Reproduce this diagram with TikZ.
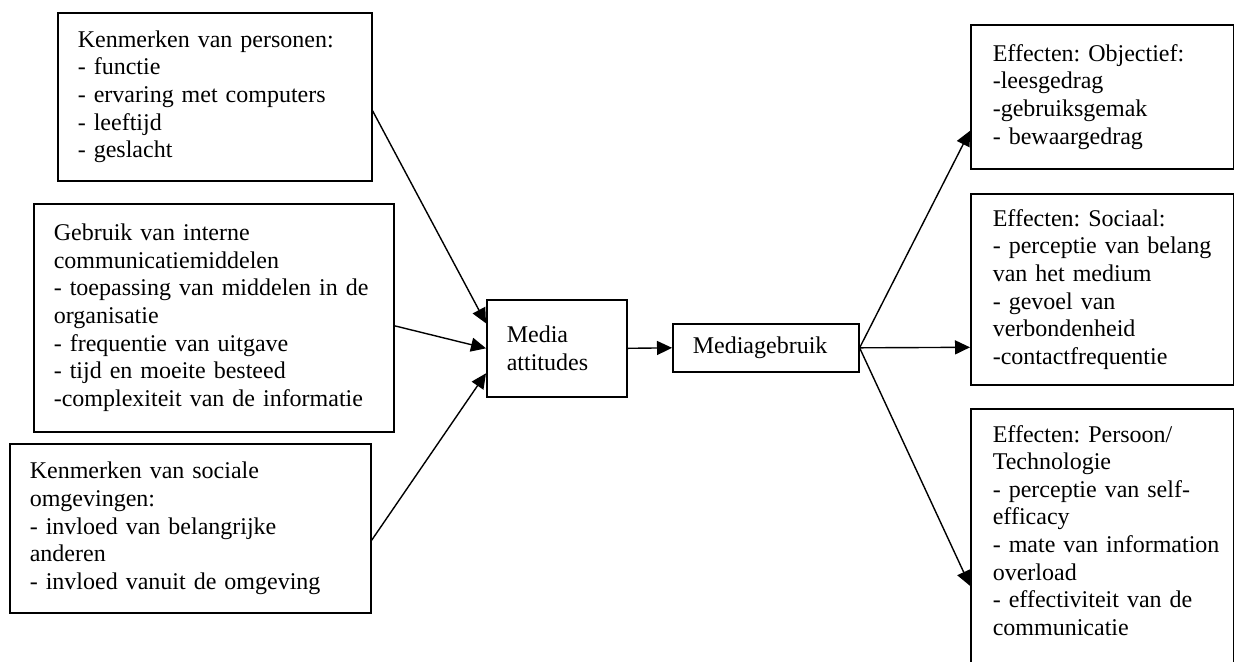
\documentclass[tikz,border=0pt]{standalone}
\usepackage{fontspec}
\setmainfont{Liberation Serif}
\usetikzlibrary{arrows.meta}
\begin{document}
\begin{tikzpicture}[x=0.5pt,y=-0.5pt,font=\fontsize{12}{13.8}\selectfont\frenchspacing,
	blok/.style={draw,line width=0.8pt,anchor=north west,align=left,inner xsep=10pt,inner ysep=2pt},
	effect/.style={blok,inner xsep=11pt,text width=109.5pt},
	pijl/.style={-{Triangle[length=7.5pt,width=7pt]},line width=0.7pt}]
	\useasboundingbox (0,0) rectangle (1234,661);
	\node[blok,text width=137pt,minimum height=84pt] (pers) at (57,12) {Kenmerken van personen:\\- functie\\- ervaring met computers\\- leeftijd\\- geslacht};
	\node[blok,text width=160pt,minimum height=114pt] (gebr) at (33,203) {Gebruik van interne\\communicatiemiddelen\\- toepassing van middelen in de\\organisatie\\- frequentie van uitgave\\- tijd en moeite besteed\\-complexiteit van de informatie};
	\node[blok,text width=160.5pt,minimum height=84.5pt] (soc) at (9,443) {Kenmerken van sociale\\omgevingen:\\- invloed van belangrijke\\anderen\\- invloed vanuit de omgeving};
	\node[blok,text width=50pt,minimum height=48.5pt] (att) at (486,299) {Media\\attitudes};
	\node[blok,text width=73pt,minimum height=24pt] (gebruik) at (672,323) {Mediagebruik};
	\node[effect,minimum height=72pt] (obj) at (970,24) {Effecten: Objectief:\\-leesgedrag\\-gebruiksgemak\\- bewaargedrag};
	\node[effect,minimum height=95.5pt] (sociaal) at (970,193) {Effecten: Sociaal:\\\mbox{- perceptie van belang}\\van het medium\\- gevoel van\\verbondenheid\\-contactfrequentie};
	\node[effect,minimum height=131pt] (persoon) at (970,408) {Effecten: Persoon/\\Technologie\\- perceptie van self-\\efficacy\\\mbox{- mate van information}\\overload\\- effectiviteit van de\\communicatie\rule[-9.6pt]{0pt}{9.6pt}};
	\draw[pijl] ([yshift=-7pt]pers.east) -- ([yshift=12.5pt]att.west);
	\draw[pijl] ([yshift=-4pt]gebr.east) -- (att.west);
	\draw[pijl] ([yshift=-6pt]soc.east) -- ([yshift=-12.5pt]att.west);
	\draw[pijl] (att.east) -- (gebruik.west);
	\draw[pijl] (gebruik.east) -- ([yshift=-17pt]obj.west);
	\draw[pijl] (gebruik.east) -- ([yshift=-29pt]sociaal.west);
	\draw[pijl] (gebruik.east) -- ([yshift=-23pt]persoon.west);
\end{tikzpicture}
\end{document}
